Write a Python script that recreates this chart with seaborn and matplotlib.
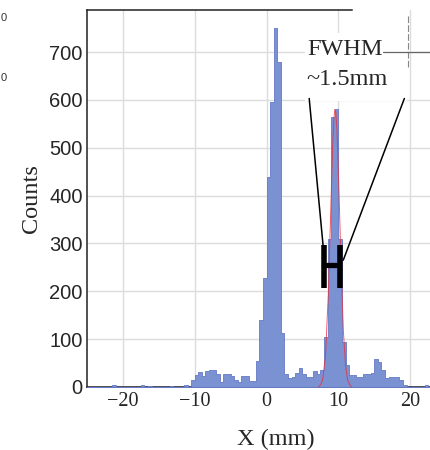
import numpy as np
import pandas as pd
import matplotlib
matplotlib.use("Agg")
import matplotlib.pyplot as plt
import seaborn as sns
from matplotlib.patches import Rectangle

sns.set_style('white')
plt.rcParams['font.family'] = ['Liberation Serif', 'DejaVu Serif']

# histogram: 0.5 mm bins from -25 mm, counts
bin_width = 0.5
bin_left = np.arange(-25, 23, bin_width)
counts = [0, 0, 0, 0, 0, 0, 0, 4, 0, 0,        # -25 .. -20.5
          0, 0, 0, 0, 0, 4, 0, 3, 0, 0,        # -20 .. -15.5
          0, 0, 0, 3, 0, 0, 0, 4, 0, 15,       # -15 .. -10.5
          25, 32, 22, 33, 35, 35, 28, 11, 27, 27,   # -10 .. -5.5
          22, 15, 11, 22, 24, 12, 12, 55, 140, 228,  # -5 .. -0.5
          439, 596, 751, 680, 112, 27, 18, 20, 30, 39,  # 0 .. 4.5
          28, 21, 21, 33, 28, 35, 105, 310, 565, 582,   # 5 .. 9.5
          310, 95, 45, 26, 25, 21, 21, 27, 28, 29,      # 10 .. 14.5
          58, 53, 35, 18, 21, 20, 20, 15, 4, 0,         # 15 .. 19.5
          0, 0, 0, 0, 4, 0]                             # 20 .. 22.5

# gaussian fit of the 10 mm peak (red curve)
fit_x = [7.2, 7.4, 7.8, 8.2, 8.6, 8.9, 9.2, 9.35, 9.5, 9.65, 9.8, 10.1, 10.4, 10.7, 11.0, 11.3, 11.7, 11.9]
fit_y = [0, 2, 14, 63, 193, 347, 501, 554, 580, 575, 539, 402, 241, 116, 45, 14, 2, 0]

df = pd.DataFrame({'X': bin_left + bin_width / 2, 'n': counts})

fig = plt.figure(figsize=(4.31, 4.50), dpi=100)
ax = fig.add_axes([87 / 431, 63 / 450, 344 / 431, 377 / 450])

sns.histplot(data=df, x='X', weights='n', binwidth=bin_width, binrange=(-25, 23),
             element='step', fill=True, color='#7a91d2', alpha=1,
             edgecolor='#6479c8', linewidth=0.6, ax=ax, zorder=3)
sns.lineplot(x=fit_x, y=fit_y, color='#e8303c', linewidth=0.7, alpha=0.8, ax=ax, zorder=4)

ax.set_xlim(-25, 22.9)
ax.set_ylim(0, 788)
ax.set_xticks([-20, -10, 0, 10, 20])
ax.set_xticks(np.arange(-25, 25, 5), minor=True)
ax.set_yticks(np.arange(0, 701, 100))
ax.set_yticks(np.arange(0, 751, 50), minor=True)
ax.grid(True, which='major', color='#dcdcdc', linewidth=1.0, zorder=0)
ax.set_axisbelow(True)

ax.tick_params(axis='both', which='major', direction='in', length=8, width=1, color='#555555')
ax.tick_params(axis='both', which='minor', direction='in', length=4.5, width=1, color='#555555')
ax.tick_params(axis='x', which='major', labelsize=14.5, pad=3.5)
ax.tick_params(axis='y', which='major', labelsize=14.5, pad=3, labelfontfamily='Liberation Sans')

for side in ['left', 'bottom', 'top']:
    ax.spines[side].set_color('#222222')
    ax.spines[side].set_linewidth(1.1)
ax.spines['right'].set_visible(False)
ax.spines['top'].set_bounds(-25, 11.9)

ax.set_xlabel('X (mm)', fontsize=17.5)
ax.set_ylabel('Counts', fontsize=17.5)
ax.xaxis.set_label_coords(0.548, -0.112)
ax.yaxis.set_label_coords(-0.131, 0.5)

# FWHM annotation
ax.add_patch(Rectangle((5.34, 598), 14.2, 142, facecolor='white', edgecolor='none', zorder=5))
ax.text(5.62, 694, 'FWHM', fontsize=17.5, va='baseline', ha='left', zorder=6)
ax.text(5.58, 631, '~1.5mm', fontsize=17.5, va='baseline', ha='left', zorder=6)
ax.plot([5.94, 7.89], [603, 293], color='black', linewidth=1.1, zorder=6)
ax.plot([19.19, 10.68], [603, 265], color='black', linewidth=1.1, zorder=6)
ax.plot([8.06, 8.06], [206, 297], color='black', linewidth=4.0, solid_capstyle='butt', zorder=6)
ax.plot([10.27, 10.27], [206, 297], color='black', linewidth=4.0, solid_capstyle='butt', zorder=6)
ax.plot([8.06, 10.27], [256, 256], color='black', linewidth=3.8, solid_capstyle='butt', zorder=6)

# leftover crosshair marks in the top right corner
ax.plot([19.66, 19.66], [668, 777], color='#888888', linewidth=0.8, linestyle=(0, (6, 2)), zorder=6)
ax.plot([16.2, 22.9], [700, 700], color='#666666', linewidth=0.9, zorder=6)

# glyphs left over from a neighbouring panel
fig.text(0.001, 1 - 18 / 450, '0', ha='left', va='center', fontsize=8, family='Liberation Sans', color='#333333')
fig.text(0.001, 1 - 78 / 450, '0', ha='left', va='center', fontsize=8, family='Liberation Sans', color='#333333')

fig.savefig('out.png', dpi=100)
